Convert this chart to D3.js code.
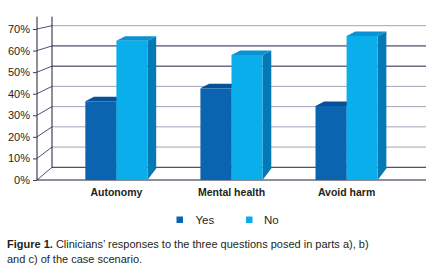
<!DOCTYPE html>
<html><head><meta charset="utf-8">
<script src="https://cdn.jsdelivr.net/npm/d3@7"></script>
<style>
body{margin:0;background:#fff;}
svg{display:block;font-family:"Liberation Sans",Arial,sans-serif;}
</style></head>
<body>
<script>
const categories = ["Autonomy", "Mental health", "Avoid harm"];
const seriesNames = ["Yes", "No"];
const yesValues = [36.5, 42.5, 34.3];
const noValues = [64.6, 58, 66.8];
const tickValues = [0, 10, 20, 30, 40, 50, 60, 70];
const tickLabels = ["0%", "10%", "20%", "30%", "40%", "50%", "60%", "70%"];
const captionBold = "Figure 1.";
const captionLine1 = " Clinicians’ responses to the three questions posed in parts a), b)";
const captionLine2 = "and c) of the case scenario.";

const W = 433, H = 277;
const svg = d3.select("body").append("svg").attr("width", W).attr("height", H);

const frontX = 37, backX = 52, rightX = 426;
const yFront = d3.scaleLinear().domain([0, 70]).range([180, 29]);
const yBack = d3.scaleLinear().domain([0, 70]).range([167.3, 25.7]);
const x0 = d3.scaleBand().domain(categories).range([frontX, rightX]).paddingInner(0.46).paddingOuter(0.42);
const x1 = d3.scaleBand().domain(seriesNames).range([0, x0.bandwidth()]);
const depthX = 8.7, depthY = -4.5;

const darkLine = "#24244e", grayLine = "#a4a4ba";
const darkTicks = new Set([0, 50, 60]);

// back wall gridlines
svg.append("g").selectAll("line").data(tickValues).join("line")
  .attr("x1", backX).attr("x2", rightX)
  .attr("y1", d => yBack(d)).attr("y2", d => yBack(d))
  .attr("stroke", d => darkTicks.has(d) ? darkLine : grayLine).attr("stroke-width", 1);

// diagonal connectors from front axis to back wall
svg.append("g").selectAll("line").data(tickValues).join("line")
  .attr("x1", frontX).attr("x2", backX)
  .attr("y1", d => yFront(d)).attr("y2", d => yBack(d))
  .attr("stroke", "#3c3c6a").attr("stroke-width", 0.9);

// vertical lines
svg.append("line").attr("x1", backX).attr("x2", backX).attr("y1", 16.7).attr("y2", yBack(0))
  .attr("stroke", "#1c1c3a").attr("stroke-width", 1);
svg.append("line").attr("x1", frontX).attr("x2", frontX).attr("y1", 16.7).attr("y2", yFront(0))
  .attr("stroke", "#1c1c3a").attr("stroke-width", 1);
// front floor line
svg.append("line").attr("x1", frontX).attr("x2", rightX).attr("y1", yFront(0)).attr("y2", yFront(0))
  .attr("stroke", "#1c1c3a").attr("stroke-width", 1);

// front axis ticks & labels
const axis = d3.axisLeft(yFront).tickValues(tickValues).tickFormat((d, i) => tickLabels[i]).tickSize(4).tickPadding(3);
const ag = svg.append("g").attr("transform", `translate(${frontX},0)`).call(axis);
ag.select(".domain").remove();
ag.selectAll(".tick line").attr("stroke", "#3c3c6a");
ag.selectAll(".tick text").attr("fill", "#231f20").style("font-size", "11px").style("font-family", "Liberation Sans, Arial, sans-serif");

// bars
const colors = {
  Yes: {front: "#0a64b0", top: "#07509a", side: "#06498c"},
  No: {front: "#0aaeea", top: "#0a92d2", side: "#0578b6"}
};
const barData = [];
categories.forEach((c, i) => {
  barData.push({cat: c, s: "Yes", v: yesValues[i]});
  barData.push({cat: c, s: "No", v: noValues[i]});
});
const bars = svg.append("g").selectAll("g").data(barData).join("g");
bars.each(function(d) {
  const g = d3.select(this);
  const xl = x0(d.cat) + x1(d.s), xr = xl + x1.bandwidth();
  const yt = yFront(d.v), yb = yFront(0);
  const c = colors[d.s];
  // side
  g.append("polygon")
    .attr("points", [[xr, yb], [xr, yt], [xr + depthX, yt + depthY], [xr + depthX, yb - 11.5]].join(" "))
    .attr("fill", c.side);
  // top
  g.append("polygon")
    .attr("points", [[xl, yt], [xr, yt], [xr + depthX, yt + depthY], [xl + depthX, yt + depthY]].join(" "))
    .attr("fill", c.top);
  // front
  g.append("rect").attr("x", xl).attr("y", yt).attr("width", xr - xl).attr("height", yb - yt).attr("fill", c.front);
});

// category labels
svg.append("g").selectAll("text").data(categories).join("text")
  .attr("x", d => x0(d) + x0.bandwidth() / 2).attr("y", 195.5)
  .attr("text-anchor", "middle").attr("font-size", "10.5px").attr("font-weight", "bold")
  .attr("fill", "#231f20").text(d => d);

// legend
const legendX = [176.5, 246];
const lg = svg.append("g").selectAll("g").data(seriesNames).join("g")
  .attr("transform", (d, i) => `translate(${legendX[i]},216.5)`);
lg.append("rect").attr("width", 6.5).attr("height", 6.5).attr("fill", d => colors[d].front);
lg.append("text").attr("x", d => d === "Yes" ? 19 : 18).attr("y", 7).attr("font-size", "11.5px")
  .attr("fill", "#231f20").text(d => d);

// caption
const cap = svg.append("text").attr("x", 7).attr("y", 248).attr("font-size", "11px").attr("fill", "#231f20");
cap.append("tspan").attr("font-weight", "bold").text(captionBold);
cap.append("tspan").text(captionLine1);
svg.append("text").attr("x", 7).attr("y", 263).attr("font-size", "11px").attr("fill", "#231f20").text(captionLine2);
</script>
</body></html>
